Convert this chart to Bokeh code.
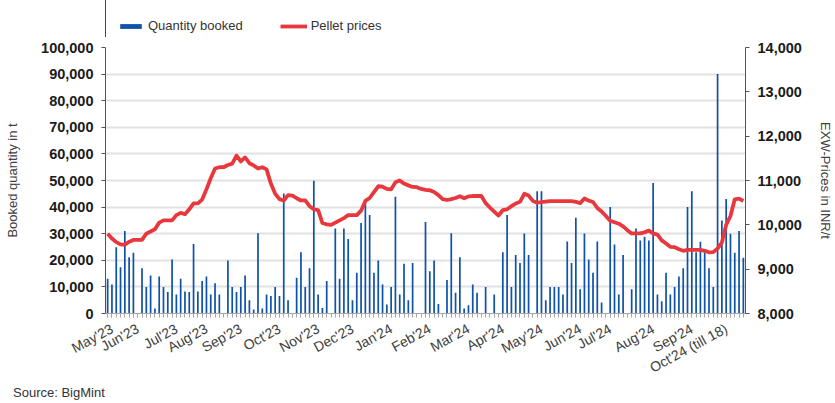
import math
from bokeh.plotting import figure
from bokeh.layouts import column
from bokeh.models import (Range1d, LinearAxis, FixedTicker, NumeralTickFormatter,
                          Legend, LegendItem, ColumnDataSource, Div)
from bokeh.embed import file_html
from bokeh.resources import INLINE

# ---------------- data ----------------
month_labels = ["May'23", "Jun'23", "Jul'23", "Aug'23", "Sep'23", "Oct'23", "Nov'23",
                "Dec'23", "Jan'24", "Feb'24", "Mar'24", "Apr'24", "May'24", "Jun'24",
                "Jul'24", "Aug'24", "Sep'24", "Oct'24 (till 18)"]
month_start = [0, 6, 15, 22, 30, 39, 48, 56, 65, 74, 83, 91, 100, 109, 116, 126, 135, 143]

quantity = [
    13100, 10900, 24900, 17400, 31000, 21100, 22800, 0, 17000, 10000,
    14300, 1900, 13900, 10000, 8100, 20300, 7100, 13100, 8300, 8100,
    26100, 8300, 12200, 13900, 7100, 11400, 7100, 0, 19900, 10000,
    8100, 10000, 14300, 5000, 1500, 30200, 1900, 7100, 6600, 10000,
    6600, 45100, 5000, 0, 13400, 23000, 10000, 17000, 49900, 7100,
    2100, 12200, 0, 32000, 13100, 32000, 28000, 5000, 15300, 34000,
    42000, 37000, 15300, 19900, 10900, 3400, 10000, 43900, 7100, 18700,
    5000, 19000, 0, 0, 34400, 15900, 19900, 3600, 0, 12600,
    30200, 7800, 21100, 1900, 3100, 10900, 7800, 0, 10000, 0,
    7100, 0, 23000, 37000, 10000, 22000, 19000, 30100, 22000, 0,
    46000, 46000, 5000, 10000, 10000, 10000, 7100, 27100, 19000, 36000,
    9100, 30100, 20300, 15300, 27100, 4100, 0, 40000, 25900, 7100,
    22000, 0, 9100, 32000, 27400, 28900, 27400, 49100, 7100, 4600,
    15300, 7100, 10000, 13900, 17000, 40000, 46000, 23000, 27000, 23000,
    17000, 10000, 90000, 35000, 43000, 30000, 22800, 31000, 21000,
]

pellet_price = [
    9800, 9690, 9610, 9560, 9550, 9620, 9660, 9660, 9660, 9800,
    9850, 9900, 10050, 10100, 10100, 10100, 10220, 10270, 10240, 10350,
    10485, 10485, 10570, 10800, 11050, 11270, 11300, 11300, 11350, 11380,
    11560, 11430, 11520, 11390, 11340, 11270, 11300, 11250, 10930, 10700,
    10580, 10550, 10670, 10660, 10600, 10550, 10550, 10420, 10350, 10330,
    10040, 10010, 10000, 10050, 10100, 10150, 10220, 10220, 10220, 10320,
    10540, 10605, 10740, 10870, 10860, 10810, 10800, 10960, 11000, 10930,
    10890, 10855, 10850, 10810, 10790, 10780, 10740, 10670, 10580, 10560,
    10580, 10605, 10645, 10600, 10640, 10650, 10650, 10650, 10490, 10390,
    10300, 10210, 10330, 10350, 10420, 10480, 10520, 10700, 10660, 10540,
    10500, 10510, 10525, 10537, 10537, 10537, 10537, 10537, 10537, 10520,
    10490, 10595, 10545, 10515, 10380, 10300, 10200, 10090, 10058, 10025,
    9965, 9880, 9806, 9806, 9806, 9830, 9870, 9806, 9780, 9650,
    9580, 9505, 9495, 9450, 9415, 9433, 9433, 9433, 9433, 9415,
    9380, 9385, 9465, 9600, 10000, 10200, 10575, 10590, 10537,
]

qty_ticks = [0, 10000, 20000, 30000, 40000, 50000, 60000, 70000, 80000, 90000, 100000]
price_ticks = [8000, 9000, 10000, 11000, 12000, 13000, 14000]

FONT = "Liberation Sans"
BLUE = "#0f52a8"
RED = "#e8383d"
LABEL_SHIFT = 1  # month labels are drawn slightly right of the month's first entry
W = 835

n = len(quantity)
idx = list(range(n))
src = ColumnDataSource(dict(x=idx, qty=quantity, price=pellet_price))

# ---------------- legend strip (top) ----------------
# the strip's view window lies beyond the data, so only the legend is visible
top = figure(width=W, height=37, output_backend="svg", toolbar_location=None,
             x_range=Range1d(1000, 1000 + W), y_range=Range1d(0, 37),
             x_axis_type=None, y_axis_type=None,
             min_border_left=0, min_border_right=0, min_border_top=0, min_border_bottom=0)
top.outline_line_color = None
top.xgrid.visible = False
top.ygrid.visible = False
leg_bar = top.vbar(x="x", top="qty", width=0.4, source=src, fill_color=BLUE, line_color=None)
leg_line = top.line(x="x", y="price", source=src, line_color=RED, line_width=3.8)
legend = Legend(items=[LegendItem(label="Quantity booked", renderers=[leg_bar]),
                       LegendItem(label="Pellet prices", renderers=[leg_line])],
                location=(12, 4), orientation="horizontal", spacing=37,
                glyph_width=27, glyph_height=6, label_standoff=4, padding=0, margin=0,
                border_line_alpha=0, background_fill_alpha=0,
                label_text_font=FONT, label_text_font_size="13px", label_text_color="#333333",
                label_height=14)
top.add_layout(legend, "center")

# ---------------- main chart ----------------
p = figure(width=W, height=348, output_backend="svg", toolbar_location=None,
           x_range=Range1d(-0.5, n - 0.5), y_range=Range1d(0, 100000),
           min_border_left=105, min_border_right=90, min_border_top=10, min_border_bottom=70)
p.extra_y_ranges = {"price": Range1d(8000, 14000)}
p.outline_line_color = None
p.background_fill_color = "white"
p.border_fill_color = "white"

p.vbar(x="x", top="qty", width=0.4, source=src, fill_color=BLUE, line_color=None)
p.line(x="x", y="price", source=src, y_range_name="price",
       line_color=RED, line_width=3.8, line_join="round")

p.xgrid.visible = False
p.ygrid.ticker = FixedTicker(ticks=qty_ticks)
p.ygrid.grid_line_color = "#e2e2e2"
p.ygrid.grid_line_width = 2

ya = p.yaxis[0]
ya.ticker = FixedTicker(ticks=qty_ticks)
ya.formatter = NumeralTickFormatter(format="0,0")
ya.axis_line_color = "#555555"
ya.major_tick_line_color = "#555555"
ya.major_tick_out = 4
ya.major_tick_in = 0
ya.minor_tick_line_color = None
ya.major_label_standoff = 8
ya.major_label_text_font = FONT
ya.major_label_text_font_style = "bold"
ya.major_label_text_font_size = "14.5px"
ya.major_label_text_color = "#1a1a1a"
ya.axis_label = "Booked quantity in t"
ya.axis_label_standoff = 18
ya.axis_label_text_font = FONT
ya.axis_label_text_font_style = "normal"
ya.axis_label_text_font_size = "13px"
ya.axis_label_text_color = "#404040"

ra = LinearAxis(y_range_name="price", ticker=FixedTicker(ticks=price_ticks),
                formatter=NumeralTickFormatter(format="0,0"))
ra.axis_line_color = "#555555"
ra.major_tick_line_color = "#555555"
ra.major_tick_out = 4
ra.major_tick_in = 0
ra.minor_tick_line_color = None
ra.major_label_standoff = 8
ra.major_label_text_font = FONT
ra.major_label_text_font_style = "bold"
ra.major_label_text_font_size = "14.5px"
ra.major_label_text_color = "#1a1a1a"
ra.axis_label = "EXW-Prices in INR/t"
ra.axis_label_standoff = 13
ra.axis_label_text_font = FONT
ra.axis_label_text_font_style = "normal"
ra.axis_label_text_font_size = "13px"
ra.axis_label_text_color = "#404040"
p.add_layout(ra, "right")

xa = p.xaxis[0]
label_pos = [m + LABEL_SHIFT for m in month_start]
xa.ticker = FixedTicker(ticks=label_pos, minor_ticks=idx)
xa.major_label_overrides = {pos: lab for pos, lab in zip(label_pos, month_labels)}
xa.major_label_orientation = 0.5
xa.axis_line_color = "#a6a6a6"
xa.major_tick_line_color = "#a6a6a6"
xa.minor_tick_line_color = "#a6a6a6"
xa.major_tick_out = 4
xa.major_tick_in = 0
xa.minor_tick_out = 4
xa.minor_tick_in = 0
xa.major_label_standoff = 10
xa.major_label_text_font = FONT
xa.major_label_text_font_size = "14px"
xa.major_label_text_color = "#404040"

# ---------------- source note (bottom) ----------------
source_note = Div(text="Source: BigMint", width=300, height=16, margin=(0, 0, 0, 13),
                  styles={"font-family": "Liberation Sans", "font-size": "13px",
                          "color": "#333333", "line-height": "16px"})

layout = column(top, p, source_note, spacing=0)
open("out.html", "w").write(file_html(layout, INLINE))
